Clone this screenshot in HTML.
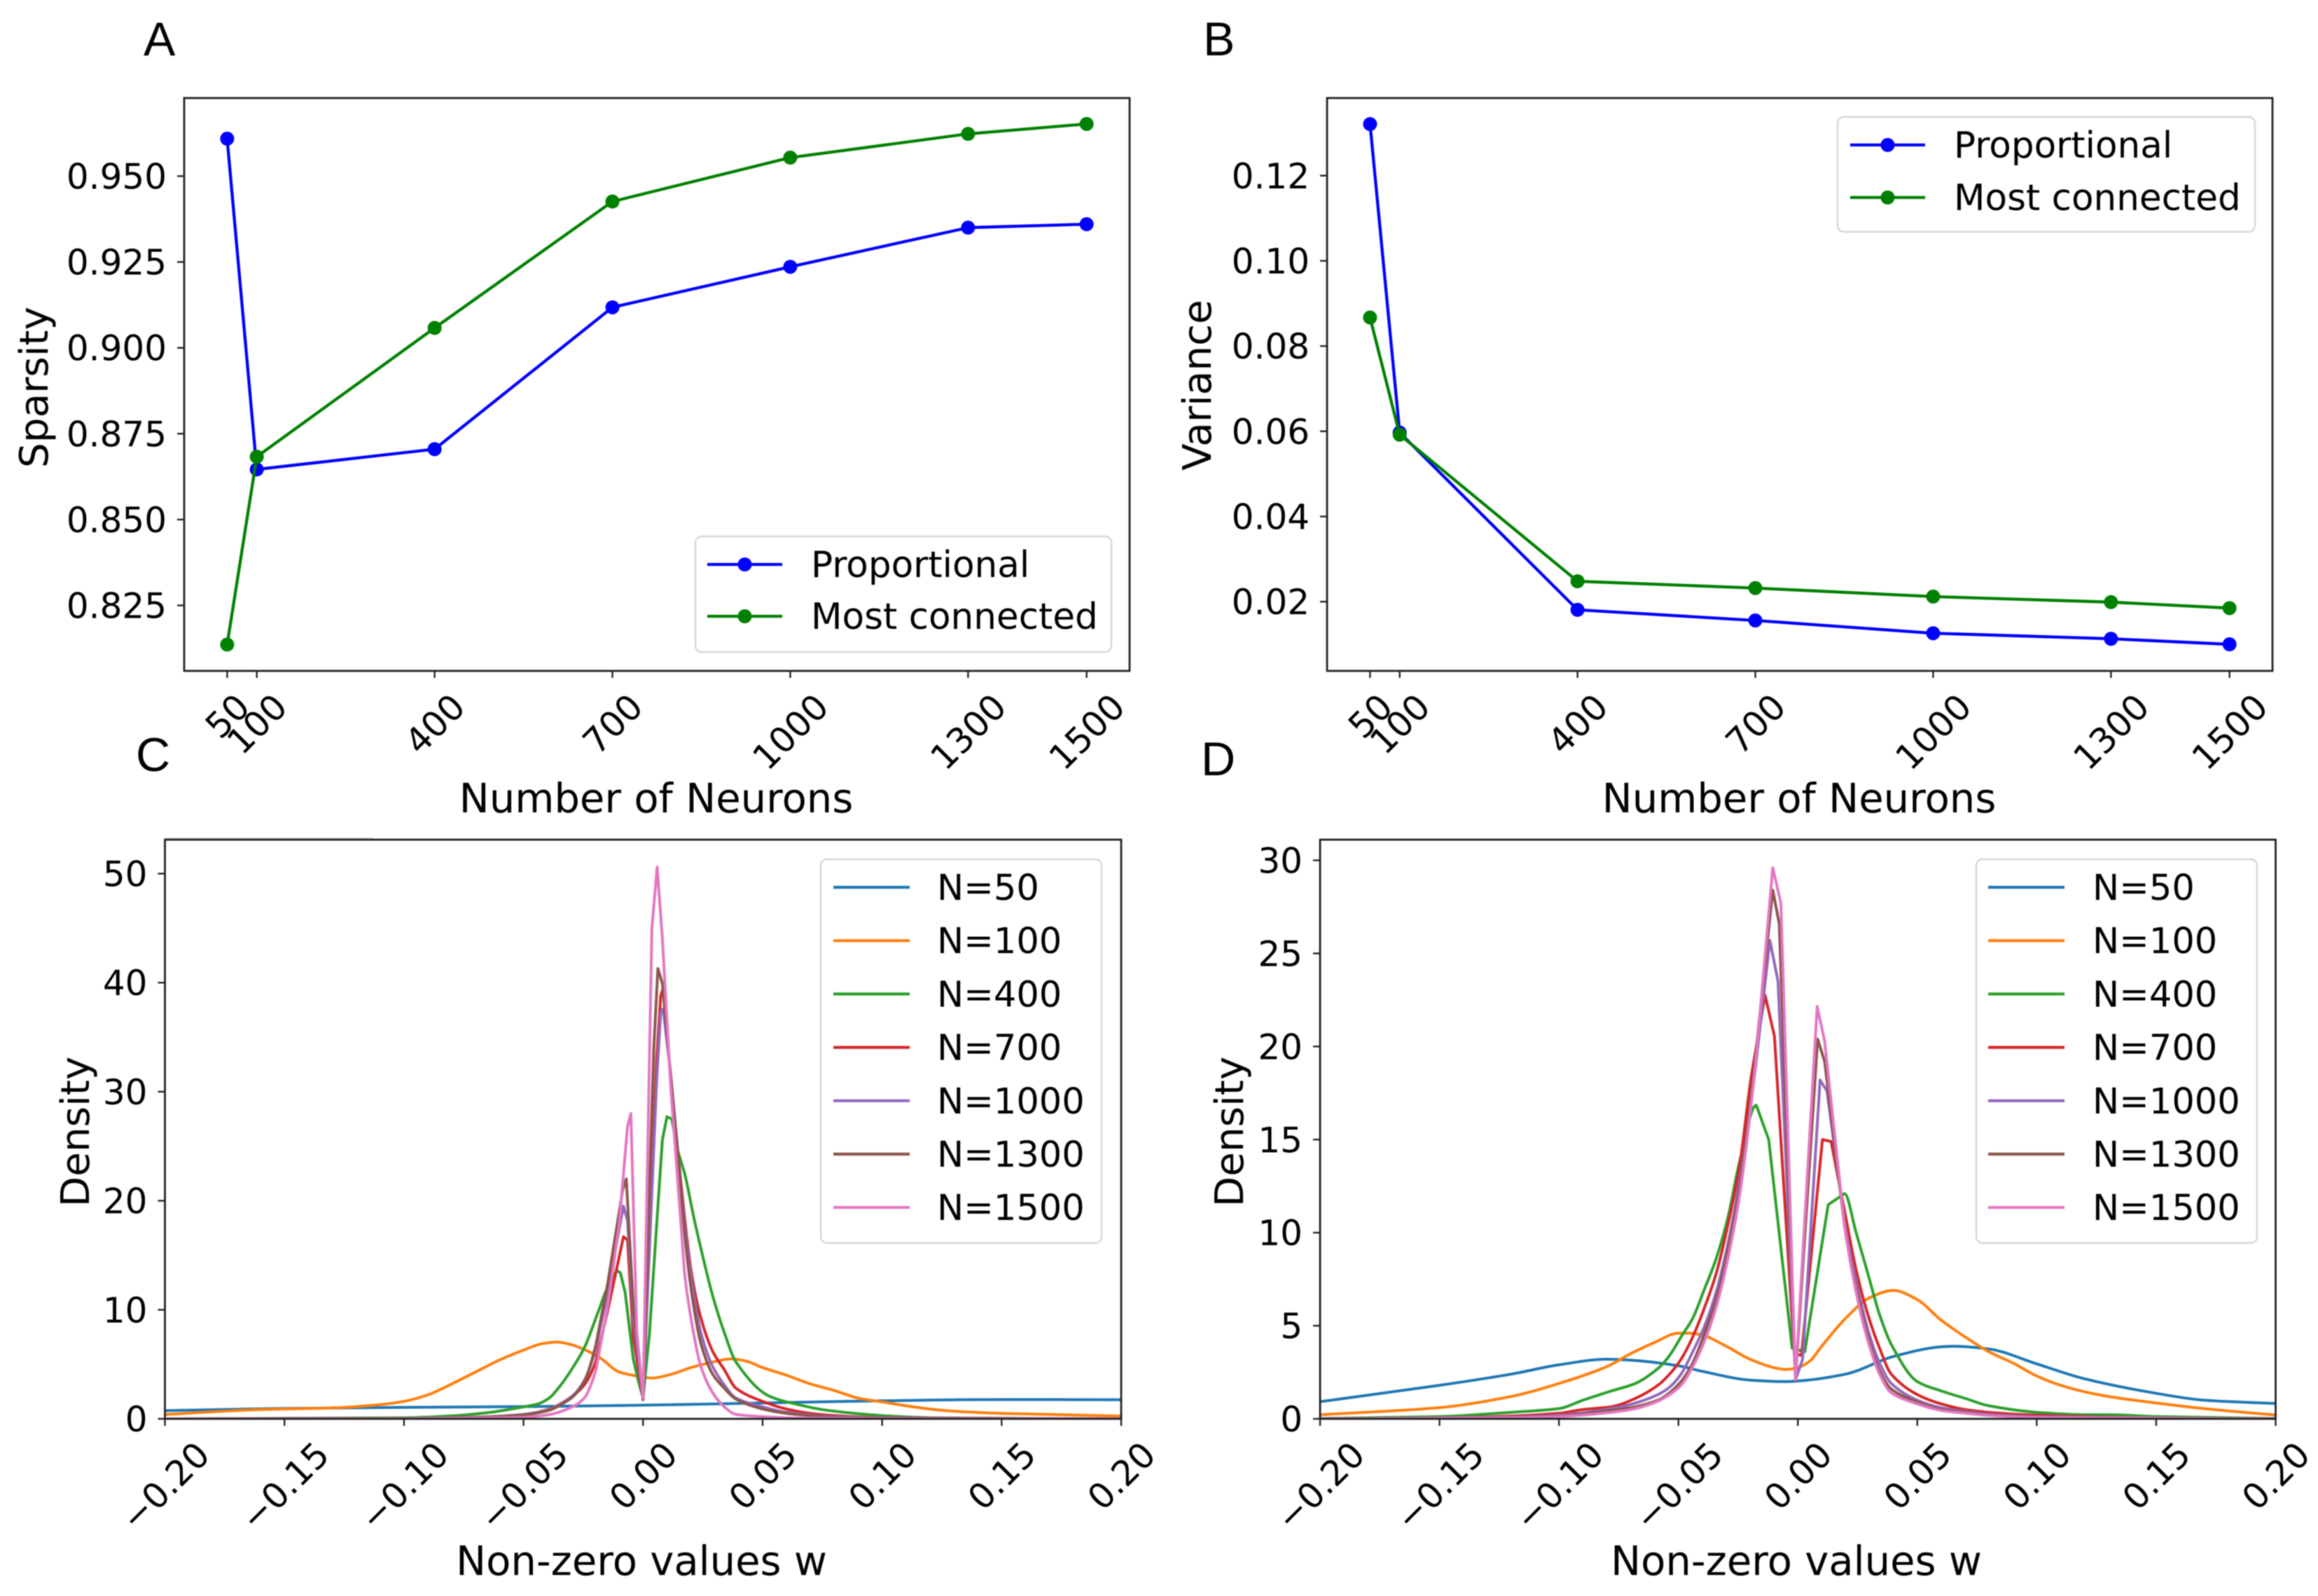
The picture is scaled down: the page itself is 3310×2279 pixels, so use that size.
<!DOCTYPE html>
<html>
<head>
<meta charset="utf-8">
<title>Sparsity, variance and weight density panels</title>
<style>
html,body{margin:0;padding:0;background:#fff;width:3310px;height:2279px;overflow:hidden}
svg{display:block;filter:blur(0.8px)}
text{font-family:"DejaVu Sans","Liberation Sans",sans-serif;fill:#000}
.letter{font-family:"Liberation Sans",sans-serif;font-size:68px}
</style>
</head>
<body>
<svg id="figure" xmlns="http://www.w3.org/2000/svg" width="3310" height="2279" viewBox="0 0 3310 2279">
  <rect x="0" y="0" width="3310" height="2279" fill="#fff"/>
  <line x1="235" y1="1197" x2="533" y2="1197" stroke="#ccc" stroke-width="1.5"/>
  <text class="letter" x="205" y="79">A</text>
  <text class="letter" x="1718" y="79">B</text>
  <text class="letter" x="194" y="1101">C</text>
  <text class="letter" x="1715" y="1107">D</text>
</svg>
<script>
// ---------- Panels A / B data ----------
const neuronCounts = [50, 100, 400, 700, 1000, 1300, 1500];
const neuronTickLabels = ['50', '100', '400', '700', '1000', '1300', '1500'];
const sparsityProportional = [0.9609, 0.8646, 0.8705, 0.9118, 0.9236, 0.9350, 0.9360];
const sparsityMostConnected = [0.8136, 0.8683, 0.9058, 0.9426, 0.9554, 0.9623, 0.9652];
const sparsityTicks = [0.825, 0.850, 0.875, 0.900, 0.925, 0.950];
const sparsityTickLabels = ['0.825', '0.850', '0.875', '0.900', '0.925', '0.950'];
const varianceProportional = [0.1321, 0.0597, 0.0181, 0.0156, 0.0126, 0.0113, 0.0100];
const varianceMostConnected = [0.0867, 0.0592, 0.0248, 0.0232, 0.0212, 0.0199, 0.0185];
const varianceTicks = [0.02, 0.04, 0.06, 0.08, 0.10, 0.12];
const varianceTickLabels = ['0.02', '0.04', '0.06', '0.08', '0.10', '0.12'];

// ---------- Panels C / D shared axes ----------
const weightTicks = [-0.20, -0.15, -0.10, -0.05, 0, 0.05, 0.10, 0.15, 0.20];
const weightTickLabels = ['\u22120.20', '\u22120.15', '\u22120.10', '\u22120.05', '0.00', '0.05', '0.10', '0.15', '0.20'];
const seriesLabels = ['N=50', 'N=100', 'N=400', 'N=700', 'N=1000', 'N=1300', 'N=1500'];
const densityTicksC = [0, 10, 20, 30, 40, 50];
const densityTicksD = [0, 5, 10, 15, 20, 25, 30];

// ---------- Panel C curves ----------
const wC50 = [-0.2, -0.15, -0.1, -0.05, 0, 0.05, 0.1, 0.15, 0.2];
const dC50 = [0.75, 0.95, 1.05, 1.12, 1.25, 1.45, 1.65, 1.77, 1.75];
const wC100 = [-0.2, -0.16, -0.13, -0.11, -0.1, -0.09, -0.08, -0.07, -0.06, -0.05, -0.042, -0.036, -0.03, -0.024, -0.018, -0.01, -0.002, 0.0037, 0.012, 0.02, 0.029, 0.037, 0.043, 0.05, 0.06, 0.07, 0.08, 0.09, 0.1, 0.11, 0.12, 0.13, 0.15, 0.17, 0.2];
const dC100 = [0.4, 0.85, 1.0, 1.3, 1.6, 2.2, 3.2, 4.3, 5.4, 6.3, 6.9, 7.04, 6.8, 6.3, 5.6, 4.3, 3.9, 3.74, 4.1, 4.7, 5.2, 5.5, 5.3, 4.7, 4.0, 3.2, 2.6, 1.9, 1.55, 1.2, 0.9, 0.7, 0.5, 0.4, 0.25];
const wC400 = [-0.2, -0.1, -0.078, -0.0637, -0.05, -0.044, -0.0393, -0.0344, -0.0295, -0.0246, -0.0197, -0.0158, -0.011, -0.0095, -0.0075, -0.0041, -0.002, 0, 0.0027, 0.0057, 0.0081, 0.01, 0.012, 0.0145, 0.0174, 0.0213, 0.0252, 0.0291, 0.034, 0.0389, 0.0526, 0.065, 0.0774, 0.1, 0.12, 0.2];
const dC400 = [0, 0.1, 0.3, 0.6, 1.1, 1.36, 1.9, 3.1, 4.66, 6.5, 9.25, 11.6, 13.6, 13.4, 11.6, 5.5, 3.5, 1.9, 7.9, 17.8, 25.6, 27.7, 27.5, 24.6, 22.5, 18.4, 14.7, 11.3, 7.9, 5.2, 2.1, 1.3, 0.77, 0.3, 0.1, 0];
const wC700 = [-0.2, -0.1, -0.069, -0.05, -0.039, -0.0344, -0.0295, -0.0246, -0.0197, -0.0148, -0.0082, -0.0065, -0.0041, 0, 0.0057, 0.0074, 0.0084, 0.0115, 0.0145, 0.0174, 0.0203, 0.0242, 0.0291, 0.034, 0.0389, 0.05, 0.06, 0.07, 0.08, 0.1, 0.2];
const dC700 = [0, 0.03, 0.15, 0.4, 0.9, 1.4, 2.1, 3.1, 5.3, 9.9, 16.7, 16.4, 7.5, 1.8, 33, 38.8, 39.5, 31.4, 24.6, 18.4, 13.3, 9.25, 6.2, 4.5, 2.8, 1.6, 0.9, 0.5, 0.3, 0.1, 0];
const wC1000 = [-0.2, -0.1, -0.068, -0.05, -0.039, -0.0344, -0.0295, -0.0246, -0.0197, -0.0148, -0.0082, -0.0065, -0.0041, 0, 0.0057, 0.0074, 0.0084, 0.0115, 0.0145, 0.0174, 0.0203, 0.0242, 0.0291, 0.034, 0.0389, 0.05, 0.06, 0.07, 0.08, 0.1, 0.2];
const dC1000 = [0, 0.03, 0.15, 0.4, 0.85, 1.4, 2.1, 3.5, 6.5, 11.6, 19.5, 18.2, 9, 1.8, 31, 37.3, 37.6, 31.7, 24.6, 17.8, 12.7, 7.9, 4.8, 3.1, 1.9, 1.1, 0.6, 0.35, 0.2, 0.08, 0];
const wC1300 = [-0.2, -0.1, -0.068, -0.05, -0.039, -0.0344, -0.0295, -0.0246, -0.0197, -0.0148, -0.0085, -0.007, -0.004, 0, 0.0045, 0.0062, 0.0081, 0.0115, 0.0145, 0.0174, 0.0203, 0.0242, 0.0291, 0.034, 0.0389, 0.05, 0.06, 0.07, 0.08, 0.1, 0.2];
const dC1300 = [0, 0.03, 0.15, 0.35, 0.8, 1.3, 2.0, 3.4, 6.8, 12.4, 21, 22, 10, 1.75, 34, 41.3, 39.9, 31.7, 24.6, 17, 11.6, 6.9, 4.1, 2.8, 1.8, 0.9, 0.5, 0.3, 0.15, 0.05, 0];
const wC1500 = [-0.2, -0.1, -0.07, -0.05, -0.039, -0.0295, -0.0246, -0.0197, -0.0148, -0.01, -0.0065, -0.0051, -0.0026, 0, 0.0037, 0.0059, 0.0081, 0.0115, 0.0145, 0.0174, 0.0203, 0.0242, 0.0291, 0.034, 0.0389, 0.05, 0.06, 0.08, 0.1, 0.2];
const dC1500 = [0, 0.02, 0.08, 0.14, 0.4, 1.1, 1.9, 4.5, 10.3, 17.8, 26.8, 28, 8, 1.9, 45, 50.6, 44, 30.7, 21.8, 13.3, 8.9, 4.8, 2.4, 1.1, 0.4, 0.2, 0.1, 0.05, 0.02, 0];

// ---------- Panel D curves ----------
const wD50 = [-0.2, -0.15, -0.12, -0.1, -0.08, -0.07, -0.05, -0.04, -0.02, -0.005, 0, 0.02, 0.04, 0.06, 0.065, 0.08, 0.1, 0.12, 0.15, 0.17, 0.2];
const dD50 = [0.92, 1.8, 2.4, 2.9, 3.2, 3.15, 2.85, 2.55, 2.08, 2.0, 2.03, 2.4, 3.35, 3.87, 3.9, 3.75, 2.95, 2.15, 1.37, 1.0, 0.82];
const wD100 = [-0.2, -0.15, -0.12, -0.1, -0.08, -0.07, -0.06, -0.05, -0.045, -0.04, -0.03, -0.02, -0.01, -0.005, 0, 0.005, 0.01, 0.02, 0.03, 0.04, 0.05, 0.06, 0.07, 0.08, 0.09, 0.1, 0.11, 0.12, 0.13, 0.15, 0.17, 0.2];
const dD100 = [0.22, 0.6, 1.2, 1.9, 2.8, 3.5, 4.1, 4.6, 4.6, 4.5, 3.9, 3.2, 2.75, 2.65, 2.75, 3.1, 3.9, 5.4, 6.5, 6.9, 6.4, 5.3, 4.4, 3.6, 3.0, 2.3, 1.8, 1.45, 1.2, 0.85, 0.55, 0.2];
const wD400 = [-0.2, -0.15, -0.12, -0.1, -0.09, -0.078, -0.068, -0.0586, -0.0537, -0.0489, -0.044, -0.039, -0.0342, -0.0293, -0.0244, -0.0174, -0.0122, -0.0024, 0.0029, 0.0127, 0.0195, 0.0244, 0.0293, 0.0342, 0.0391, 0.05, 0.06, 0.07, 0.08, 0.1, 0.12, 0.13, 0.15, 0.2];
const dD400 = [0.02, 0.12, 0.35, 0.55, 1.0, 1.5, 1.9, 2.7, 3.4, 4.4, 5.4, 7, 8.6, 10.8, 13.8, 16.85, 15, 3.8, 3.6, 11.5, 12.1, 10, 7.8, 5.6, 4, 2, 1.5, 1.1, 0.7, 0.35, 0.22, 0.22, 0.12, 0.02];
const wD700 = [-0.2, -0.15, -0.12, -0.1, -0.09, -0.078, -0.068, -0.0586, -0.0537, -0.0489, -0.044, -0.039, -0.0342, -0.0293, -0.0244, -0.0195, -0.0137, -0.0098, -0.0015, 0.0015, 0.0103, 0.0139, 0.0195, 0.0244, 0.0293, 0.0342, 0.0391, 0.05, 0.06, 0.07, 0.08, 0.1, 0.15, 0.2];
const dD700 = [0, 0.05, 0.15, 0.3, 0.5, 0.65, 1.1, 1.8, 2.4, 3.2, 4.4, 6, 7.8, 10.4, 13.6, 18.4, 22.75, 20.55, 3.5, 3.4, 15, 14.9, 11.2, 8, 5.6, 3.8, 2.4, 1.3, 0.8, 0.5, 0.35, 0.2, 0.05, 0];
const wD1000 = [-0.2, -0.12, -0.1, -0.078, -0.068, -0.0586, -0.0537, -0.0489, -0.044, -0.039, -0.0342, -0.0293, -0.0244, -0.0176, -0.0117, -0.0083, -0.001, 0.002, 0.0093, 0.0122, 0.0195, 0.0244, 0.0293, 0.0342, 0.0391, 0.05, 0.06, 0.07, 0.08, 0.1, 0.2];
const dD1000 = [0, 0.1, 0.2, 0.55, 0.85, 1.3, 1.7, 2.4, 3.6, 5, 6.8, 9.4, 12.8, 19, 25.7, 23.5, 2.1, 3.2, 18.2, 17.6, 10.6, 7.4, 4.8, 3, 1.9, 1, 0.6, 0.4, 0.25, 0.12, 0];
const wD1300 = [-0.2, -0.12, -0.1, -0.078, -0.068, -0.0586, -0.0537, -0.0489, -0.044, -0.039, -0.0342, -0.0293, -0.0244, -0.0176, -0.0105, -0.0078, -0.001, 0.0083, 0.0112, 0.0195, 0.0244, 0.0293, 0.0342, 0.0391, 0.05, 0.06, 0.07, 0.08, 0.1, 0.2];
const dD1300 = [0, 0.08, 0.15, 0.45, 0.65, 1, 1.4, 2, 3, 4.6, 6.4, 9, 12.4, 19.6, 28.4, 26.6, 2.1, 20.4, 19.2, 10.4, 7, 4.4, 2.6, 1.6, 0.9, 0.5, 0.35, 0.2, 0.1, 0];
const wD1500 = [-0.2, -0.12, -0.1, -0.078, -0.068, -0.0586, -0.0537, -0.0489, -0.044, -0.039, -0.0342, -0.0293, -0.0244, -0.0176, -0.0105, -0.0071, -0.001, 0.0081, 0.0112, 0.0195, 0.0244, 0.0293, 0.0342, 0.0391, 0.05, 0.06, 0.07, 0.08, 0.1, 0.2];
const dD1500 = [0, 0.06, 0.12, 0.35, 0.55, 0.95, 1.3, 1.8, 2.8, 4.2, 6, 8.6, 12, 19.2, 29.6, 27.7, 2.1, 22.15, 20.3, 10.4, 6.8, 4.2, 2.4, 1.4, 0.8, 0.45, 0.3, 0.18, 0.08, 0];

const curvesCw = [wC50, wC100, wC400, wC700, wC1000, wC1300, wC1500];
const curvesCd = [dC50, dC100, dC400, dC700, dC1000, dC1300, dC1500];
const curvesDw = [wD50, wD100, wD400, wD700, wD1000, wD1300, wD1500];
const curvesDd = [dD50, dD100, dD400, dD700, dD1000, dD1300, dD1500];
const tabColors = ['#1f77b4', '#ff7f0e', '#2ca02c', '#d62728', '#9467bd', '#8c564b', '#e377c2'];

const svg = document.getElementById('figure');
const NS = 'http://www.w3.org/2000/svg';

function make(tag, attrs, parent) {
  const e = document.createElementNS(NS, tag);
  for (const k in attrs) e.setAttribute(k, attrs[k]);
  parent.appendChild(e);
  return e;
}
function linear(d0, d1, r0, r1) {
  return function (v) { return r0 + (v - d0) * (r1 - r0) / (d1 - d0); };
}
function pathFor(xs, ys, sx, sy) {
  return xs.map(function (x, i) { return (i ? 'L' : 'M') + sx(x).toFixed(2) + ' ' + sy(ys[i]).toFixed(2); }).join('');
}
// Monotone cubic through the KDE samples; segments closer to zero than
// `sharpWithin` stay straight so the sampled peaks keep their corners.
function smoothPathFor(xs, ys, sx, sy, sharpWithin) {
  const n = xs.length;
  const px = xs.map(sx);
  const py = ys.map(sy);
  const slopes = [];
  for (let i = 0; i < n - 1; i++) slopes.push((py[i + 1] - py[i]) / (px[i + 1] - px[i]));
  const tangents = [slopes[0]];
  for (let i = 1; i < n - 1; i++) {
    if (slopes[i - 1] * slopes[i] <= 0) {
      tangents.push(0);
    } else {
      tangents.push(2 * slopes[i - 1] * slopes[i] / (slopes[i - 1] + slopes[i]));
    }
  }
  tangents.push(slopes[n - 2]);
  let d = 'M' + px[0].toFixed(2) + ' ' + py[0].toFixed(2);
  for (let i = 0; i < n - 1; i++) {
    if (Math.abs(xs[i]) < sharpWithin || Math.abs(xs[i + 1]) < sharpWithin) {
      d += 'L' + px[i + 1].toFixed(2) + ' ' + py[i + 1].toFixed(2);
    } else {
      const h = (px[i + 1] - px[i]) / 3;
      d += 'C' + (px[i] + h).toFixed(2) + ' ' + (py[i] + tangents[i] * h).toFixed(2) + ' ' +
        (px[i + 1] - h).toFixed(2) + ' ' + (py[i + 1] - tangents[i + 1] * h).toFixed(2) + ' ' +
        px[i + 1].toFixed(2) + ' ' + py[i + 1].toFixed(2);
    }
  }
  return d;
}

function drawAxes(p, prefix) {
  const g = make('g', {}, svg);
  
  
  const clipId = prefix + '-clip';
  const defs = make('defs', {}, g);
  const clip = make('clipPath', { id: clipId }, defs);
  make('rect', { x: p.left, y: p.top, width: p.right - p.left, height: p.bottom - p.top }, clip);
  const plot = make('g', { 'clip-path': 'url(#' + clipId + ')' }, g);
  
  

  p.xTicks.forEach(function (t, i) {
    const x = p.sx(t);
    const tick = make('line', { x1: x, x2: x, y1: p.bottom, y2: p.bottom + 10, stroke: '#222', 'stroke-width': 2.4 }, g);
    
    
    const label = make('text', { 'font-size': 50, 'text-anchor': 'middle' }, g);
    
    
    label.textContent = p.xLabels[i];
    const w = label.getComputedTextLength();
    const cy = p.bottom + 29 + (w + 36) * Math.SQRT1_2 / 2;
    label.setAttribute('x', x);
    label.setAttribute('y', cy + 18);
    label.setAttribute('transform', 'rotate(-45 ' + x + ' ' + cy + ')');
  });
  p.yTicks.forEach(function (t, i) {
    const y = p.sy(t);
    const tick = make('line', { x1: p.left - 10, x2: p.left, y1: y, y2: y, stroke: '#222', 'stroke-width': 2.4 }, g);
    
    
    const label = make('text', { 'font-size': 50, 'text-anchor': 'end', x: p.left - 25, y: y + 18 }, g);
    
    
    label.textContent = p.yLabels[i];
  });

  const xt = make('text', { 'font-size': 57.6, 'text-anchor': 'middle', x: p.xTitleX, y: p.xTitleY }, g);
  
  
  xt.textContent = p.xTitle;
  const yt = make('text', { 'font-size': 56.5, 'text-anchor': 'middle', x: p.yTitleX, y: p.yTitleY, transform: 'rotate(-90 ' + p.yTitleX + ' ' + p.yTitleY + ')' }, g);
  
  
  yt.textContent = p.yTitle;
  return { g: g, plot: plot };
}

function drawFrame(p, g, prefix) {
  const frame = make('rect', { x: p.left, y: p.top, width: p.right - p.left, height: p.bottom - p.top, fill: 'none', stroke: '#222', 'stroke-width': 2.8 }, g);
  
  
}

function drawLegendBox(g, prefix, x, y, w, h) {
  const box = make('rect', { x: x, y: y, width: w, height: h, rx: 9, ry: 9, fill: '#fff', 'fill-opacity': 0.8, stroke: '#d6d6d6', 'stroke-width': 2.4 }, g);
  
  
}

function drawMarkerPanel(p, prefix, series1, series2, legend) {
  const parts = drawAxes(p, prefix);
  [[series1, '#0000ff', 'proportional'], [series2, '#008000', 'most-connected']].forEach(function (s) {
    const line = make('path', { d: pathFor(neuronCounts, s[0], p.sx, p.sy), fill: 'none', stroke: s[1], 'stroke-width': 4.3, 'stroke-linejoin': 'round' }, parts.plot);
    
    
    neuronCounts.forEach(function (n, i) {
      const dot = make('circle', { cx: p.sx(n), cy: p.sy(s[0][i]), r: 10, fill: s[1] }, parts.plot);
      
      
    });
  });
  drawFrame(p, parts.g, prefix);
  drawLegendBox(parts.g, prefix, legend.x, legend.y, legend.w, legend.h);
  [['Proportional', '#0000ff', legend.y1], ['Most connected', '#008000', legend.y2]].forEach(function (e) {
    const sw = make('line', { x1: legend.lx, x2: legend.lx + 107, y1: e[2], y2: e[2], stroke: e[1], 'stroke-width': 4.3 }, parts.g);
    
    
    const mk = make('circle', { cx: legend.lx + 53.5, cy: e[2], r: 10, fill: e[1] }, parts.g);
    
    
    const tx = make('text', { x: legend.tx, y: e[2] + 18, 'font-size': 51.6 }, parts.g);
    
    
    tx.textContent = e[0];
  });
}

function drawDensityPanel(p, prefix, ws, ds, legend) {
  const parts = drawAxes(p, prefix);
  ws.forEach(function (w, i) {
    const sharpWithin = i < 2 ? 0 : 0.017;
    const line = make('path', { d: smoothPathFor(w, ds[i], p.sx, p.sy, sharpWithin), fill: 'none', stroke: tabColors[i], 'stroke-width': 4, 'stroke-linejoin': 'round' }, parts.plot);
    
    
  });
  drawFrame(p, parts.g, prefix);
  drawLegendBox(parts.g, prefix, legend.x, legend.y, legend.w, legend.h);
  seriesLabels.forEach(function (lab, i) {
    const y = legend.y0 + i * legend.step;
    const sw = make('line', { x1: legend.lx, x2: legend.lx + 109, y1: y, y2: y, stroke: tabColors[i], 'stroke-width': 4.2 }, parts.g);
    
    
    const tx = make('text', { x: legend.tx, y: y + 18, 'font-size': 51 }, parts.g);
    
    
    tx.textContent = lab;
  });
}

drawMarkerPanel({
  left: 263, right: 1613, top: 140, bottom: 958,
  sx: linear(-22.5, 1572.5, 263, 1613), sy: linear(0.825, 0.950, 864.5, 251.5),
  xTicks: neuronCounts, xLabels: neuronTickLabels, yTicks: sparsityTicks, yLabels: sparsityTickLabels,
  xTitle: 'Number of Neurons', xTitleX: 937, xTitleY: 1160,
  yTitle: 'Sparsity', yTitleX: 68, yTitleY: 553
}, 'panel-a', sparsityProportional, sparsityMostConnected, { x: 993, y: 766, w: 594, h: 165, lx: 1010, tx: 1158, y1: 806, y2: 880 });

drawMarkerPanel({
  left: 1895, right: 3245, top: 140, bottom: 958,
  sx: linear(-22.5, 1572.5, 1895, 3245), sy: linear(0.02, 0.12, 859.2, 250.8),
  xTicks: neuronCounts, xLabels: neuronTickLabels, yTicks: varianceTicks, yLabels: varianceTickLabels,
  xTitle: 'Number of Neurons', xTitleX: 2569, xTitleY: 1160,
  yTitle: 'Variance', yTitleX: 1729, yTitleY: 550
}, 'panel-b', varianceProportional, varianceMostConnected, { x: 2624, y: 167, w: 596, h: 164, lx: 2642, tx: 2790, y1: 207, y2: 282 });

drawDensityPanel({
  left: 235.5, right: 1601, top: 1199, bottom: 2026,
  sx: linear(-0.2, 0.2, 235.5, 1601), sy: linear(0, 50, 2026, 1247.5),
  xTicks: weightTicks, xLabels: weightTickLabels, yTicks: densityTicksC, yLabels: densityTicksC.map(String),
  xTitle: 'Non-zero values w', xTitleX: 916, xTitleY: 2249,
  yTitle: 'Density', yTitleX: 127, yTitleY: 1616
}, 'panel-c', curvesCw, curvesCd, { x: 1172, y: 1227, w: 401, h: 548, lx: 1190, tx: 1338, y0: 1267, step: 76.2 });

drawDensityPanel({
  left: 1885, right: 3249.5, top: 1199, bottom: 2026,
  sx: linear(-0.2, 0.2, 1885, 3249.5), sy: linear(0, 30, 2026, 1228.5),
  xTicks: weightTicks, xLabels: weightTickLabels, yTicks: densityTicksD, yLabels: densityTicksD.map(String),
  xTitle: 'Non-zero values w', xTitleX: 2565, xTitleY: 2249,
  yTitle: 'Density', yTitleX: 1775, yTitleY: 1616
}, 'panel-d', curvesDw, curvesDd, { x: 2822, y: 1227, w: 401, h: 548, lx: 2839, tx: 2988, y0: 1267, step: 76.2 });
</script>
</body>
</html>
